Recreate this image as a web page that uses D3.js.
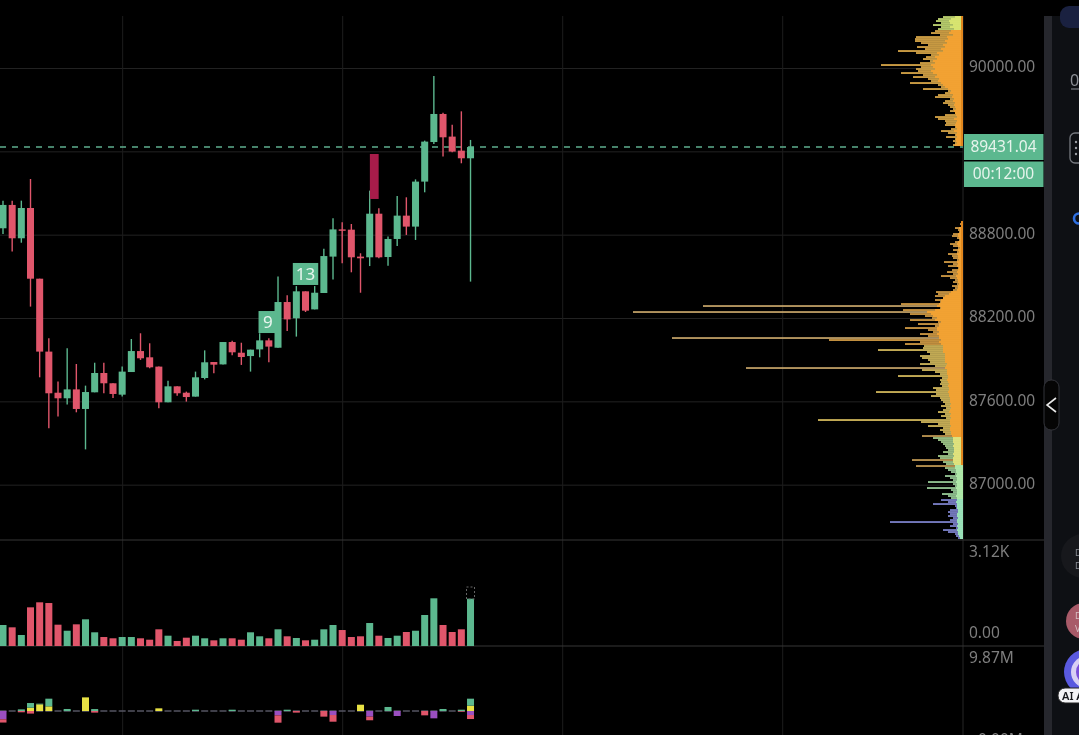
<!DOCTYPE html>
<html>
<head>
<meta charset="utf-8">
<title>BTC candles</title>
<script src="https://cdn.jsdelivr.net/npm/d3@7"></script>
<style>
    html, body { margin: 0; padding: 0; background: #000; overflow: hidden; }
    svg { display: block; filter: blur(0.55px); }
    text { font-family: "Noto Sans", sans-serif; }
    .tick text { font-family: "Noto Sans", sans-serif; }
    .grid .domain { display: none; }
    .grid text { display: none; }
</style>
</head>
<body>
<div id="chart"></div>
<script>
// candles
var opens = [88846,89014,88774,88992,88483,87958,87662,87622,87686,87545,87665,87804,87730,87648,87811,87962,87917,87850,87593,87708,87662,87634,87768,87883,87866,88027,87950,87926,87974,88039,87986,88315,88198,88392,88262,88380,88642,88838,88836,88642,88637,88951,88639,88769,88937,88858,89182,89467,89669,89506,89405,89350];
var closes = [89014,88774,88992,88483,87958,87658,87622,87686,87545,87667,87804,87730,87653,87814,87962,87910,87845,87593,87708,87658,87631,87773,87881,87864,88027,87953,87919,87972,88039,87994,88315,88190,88392,88253,88382,88646,88838,88829,88637,88630,88951,88637,88769,88937,88858,89182,89470,89669,89501,89398,89350,89431];
var highs = [89045,89045,89045,89201,88483,88054,87742,87982,87869,87713,87878,87878,87730,87850,88049,88090,88018,87850,87749,87708,87670,87814,87967,87883,88027,88037,88022,87972,88090,88054,88498,88363,88430,88392,88430,88699,88918,88889,88877,88666,89117,88990,88786,89078,89069,89198,89477,89942,89678,89592,89688,89482];
var lows = [88805,88678,88742,88282,87773,87406,87490,87578,87521,87254,87665,87658,87624,87634,87811,87898,87838,87550,87593,87641,87598,87634,87758,87802,87866,87931,87862,87814,87917,87881,87986,88106,88066,88243,88262,88380,88478,88594,88529,88382,88574,88630,88577,88718,88798,88762,89105,89453,89362,89393,89314,88462];

var volumes = [624,555,327,1149,1298,1277,633,454,644,793,407,267,229,267,267,229,187,496,306,149,247,306,229,169,229,229,187,407,288,229,496,288,238,169,187,496,624,475,267,288,683,306,238,306,416,454,921,1417,624,416,496,1405];

// delta pane, in millions. yellow and green stack up, purple and red stack down
var deltaYellow = [0,0,0,.51,1.03,.72,0,0,0,2.1,0,0,0,0,0,0,0,.41,0,0,0,0,0,0,0,0,0,0,0,0,0,0,0,0,0,0,0,0,0,.97,0,0,0,0,0,0,0,0,0,0,0,.82];
var deltaGreen = [0,0,.25,.72,.1,1.18,0,.31,0,0,.3,0,0,0,0,0,0,0,0,0,0,.2,0,0,0,.2,0,0,0,0,0,.2,0,0,0,0,0,0,0,0,0,0,.62,0,0,0,0,0,.31,0,.2,1.08];
var deltaPurple = [1.28,0,0,0,0,0,0,0,0,0,0,0,0,0,0,0,0,0,0,0,0,0,0,0,0,0,0,0,0,0,.67,0,0,0,0,0,.62,0,0,0,.87,0,0,.77,0,0,0,1.13,0,0,0,.62];
var deltaRed = [.5,0,.2,.4,0,0,0,0,0,0,.25,0,0,0,0,0,0,0,0,0,0,0,0,0,0,0,0,0,0,0,1.13,0,.25,0,0,.87,1.03,0,0,0,.56,0,0,0,0,0,.67,0,0,0,.1,.62];

// volume profile rows, top block then lower block
var profileUpper = [20,25,27,22,30,22,25,28,32,23,47,48,48,42,35,46,38,65,47,32,37,40,33,43,82,42,47,45,62,40,50,35,32,53,25,22,40,15,18,25,28,13,18,20,15,13,10,13,8,18,28,25,18,17,18,8,12,22,15,8,17,8,10,8,10];
var profileUpperCore = [8,12,14,13,10,13,9,12,14,10,16,15,18,16,20,18,22,20,26,24,28,26,30,28,32,30,28,32,30,26,28,24,25,22,20,18,15,12,13,10,11,9,10,8,9,8,7,9,8,7,6,9,6,7,8,7,6,9,6,7,6,7,7,6,8];
var profileLower = [1,3,2,8,5,4,10,11,6,4,8,13,10,5,10,6,15,11,10,6,19,10,15,5,11,16,10,22,13,8,10,6,11,8,10,27,25,28,20,28,23,62,260,23,60,330,53,38,31,53,25,45,28,58,35,30,43,35,291,134,43,58,39,40,85,36,33,43,41,35,33,43,28,217,41,28,23,65,21,23,22,23,21,30,27,87,27,32,23,22,20,18,22,17,20,25,18,22,17,145,42,25,35,20,23,20,18,41,30,25,22,20,18,17,15,20,15,25,23,51,20,17,47,18,15,12,8,18,13,10,35,10,8,36,12,10,21,15,12,22,15,30,8,7,13,15,13,15,10,13,73,10,13,7,20,15,8,7,5];
var profileLowerCore = [1,2,2,4,3,3,5,5,4,3,5,6,5,3,5,4,6,5,5,4,6,5,6,4,5,6,5,7,6,5,5,4,5,5,6,12,14,18,20,22,22,24,26,22,28,36,32,30,26,28,22,24,24,26,26,24,26,24,24,22,24,22,20,20,20,20,18,18,18,18,18,16,17,18,16,16,16,15,15,16,15,14,15,14,14,15,14,14,13,13,13,12,13,12,13,14,12,13,12,13,13,13,12,13,13,12,12,11,10,10,10,9,10,9,9,9,10,9,10,10,10,9,8,8,7,7,6,7,6,6,7,6,6,7,6,6,6,7,6,6,7,6,6,6,5,5,6,6,5,6,6,5,6,5,6,5,5,4,3];
var profileUpperTop = 90367;
var profileLowerTop = 88891;
var profileStep = 14.4;

var priceTicks = [90000, 88800, 88200, 87600, 87000];
var gridPrices = [90000, 89400, 88800, 88200, 87600, 87000];
var gridBars = [13, 37, 61, 85];

var lastPrice = 89431.04;
var countdown = "00:12:00";
var tdCounts = [{bar: 28.9, label: "9", price: 88171}, {bar: 33, label: "13", price: 88517}];
var bigBlock = {bar: 40.5, top: 89381, bottom: 89057};

var svgWidth = 1079;
var svgHeight = 735;
var axisX = 963;

var green = "#5cb88f";
var red = "#e0566b";

var svg = d3.select("#chart")
    .append("svg")
    .attr("width", svgWidth)
    .attr("height", svgHeight);

svg.append("rect")
    .attr("width", svgWidth)
    .attr("height", svgHeight)
    .attr("fill", "#000");

// scales
var xBar = d3.scaleLinear().domain([0, 85]).range([3, 782.2]);
var yPrice = d3.scaleLinear().domain([90374.4, 86601.6]).range([16, 540]);
var yVolume = d3.scaleLinear().domain([0, 3120]).range([646, 541]);
var yDelta = d3.scaleLinear().domain([0, 9.87]).range([711, 647]);
var xProfile = d3.scaleLinear().domain([0, 330]).range([axisX, axisX - 330]);

var tipColor = d3.scaleThreshold()
    .domain([86890, 87106, 87350, 88006, 89000, 90274])
    .range(["#8a90e0", "#a8e0a8", "#b4e09a", "#e8cc66", "#e8ac4c", "#f0b850", "#d8f080"]);
var coreColor = d3.scaleThreshold()
    .domain([86890, 87142, 87350, 90274])
    .range(["#9ae2b8", "#aee8a8", "#dfe27c", "#f2a233", "#d8e470"]);

// long rows in the low band come out tan, not green
function rowTip(d) {
    if (d.total > 40 && d.price > 87106 && d.price < 87400) return "#d4a85c";
    if (d.total > 200) return "#d4b070";
    return tipColor(d.price);
}

// gridlines
svg.append("g")
    .attr("class", "grid")
    .attr("transform", `translate(${axisX}, 0)`)
    .call(d3.axisLeft(yPrice).tickValues(gridPrices).tickSize(axisX).tickFormat(""))
    .selectAll("line")
    .attr("stroke", "#222");

svg.append("g")
    .attr("class", "grid")
    .attr("transform", "translate(0, 16)")
    .call(d3.axisBottom(xBar).tickValues(gridBars).tickSize(719).tickFormat(""))
    .selectAll("line")
    .attr("stroke", "#1d1d1d");

// axis edge and pane separators
svg.append("line")
    .attr("x1", axisX).attr("x2", axisX).attr("y1", 16).attr("y2", 735)
    .attr("stroke", "#262626");
svg.selectAll(".separator")
    .data([yVolume.range()[1] - 1, yVolume.range()[0]])
    .enter()
    .append("line")
    .attr("class", "separator")
    .attr("x1", 0).attr("x2", 1044)
    .attr("y1", d => d).attr("y2", d => d)
    .attr("stroke", "#363636")
    .attr("stroke-width", 1.2);

// last price dashes
svg.append("line")
    .attr("x1", 0).attr("x2", axisX)
    .attr("y1", yPrice(lastPrice)).attr("y2", yPrice(lastPrice))
    .attr("stroke", "#5fae8e")
    .attr("stroke-width", 1.6)
    .attr("stroke-dasharray", "6,6");

// volume profile
function drawProfile(totals, cores, topPrice) {
    var rows = totals.map(function (total, i) {
        return {price: topPrice - i * profileStep, total: total, core: Math.min(cores[i], total)};
    });
    var rowGroup = svg.append("g");
    rowGroup.selectAll(".tip")
        .data(rows)
        .enter()
        .append("rect")
        .attr("x", d => xProfile(d.total))
        .attr("y", d => yPrice(d.price) - 0.8)
        .attr("width", d => axisX - xProfile(d.total))
        .attr("height", 1.6)
        .attr("fill", rowTip);
    rowGroup.selectAll(".core")
        .data(rows)
        .enter()
        .append("rect")
        .attr("x", d => xProfile(d.core))
        .attr("y", d => yPrice(d.price) - 1)
        .attr("width", d => axisX - xProfile(d.core))
        .attr("height", 2)
        .attr("fill", d => coreColor(d.price));
    // darker edge against the axis
    rowGroup.selectAll(".edge")
        .data(rows.filter(d => d.price > 87142))
        .enter()
        .append("rect")
        .attr("x", axisX - 2)
        .attr("y", d => yPrice(d.price) - 1)
        .attr("width", 2)
        .attr("height", 2)
        .attr("fill", "#e0861e");
}
drawProfile(profileUpper, profileUpperCore, profileUpperTop);
drawProfile(profileLower, profileLowerCore, profileLowerTop);

// candles
var candles = opens.map(function (open, i) {
    return {i: i, open: open, close: closes[i], high: highs[i], low: lows[i], volume: volumes[i]};
});
var barWidth = 7;

svg.selectAll(".wick")
    .data(candles)
    .enter()
    .append("line")
    .attr("class", "wick")
    .attr("x1", d => xBar(d.i)).attr("x2", d => xBar(d.i))
    .attr("y1", d => yPrice(d.high)).attr("y2", d => yPrice(d.low))
    .attr("stroke", d => d.close >= d.open ? green : red)
    .attr("stroke-width", 1.4);

svg.selectAll(".body")
    .data(candles)
    .enter()
    .append("rect")
    .attr("class", "body")
    .attr("x", d => xBar(d.i) - barWidth / 2)
    .attr("y", d => yPrice(Math.max(d.open, d.close)))
    .attr("width", barWidth)
    .attr("height", d => Math.max(1.4, Math.abs(yPrice(d.open) - yPrice(d.close))))
    .attr("fill", d => d.close >= d.open ? green : red);

svg.append("rect")
    .attr("x", xBar(bigBlock.bar) - 4.4)
    .attr("y", yPrice(bigBlock.top))
    .attr("width", 8.8)
    .attr("height", yPrice(bigBlock.bottom) - yPrice(bigBlock.top))
    .attr("fill", "#a81c4a");

// count labels
var countGroup = svg.selectAll(".count")
    .data(tdCounts)
    .enter()
    .append("g")
    .attr("class", "count")
    .attr("transform", d => `translate(${xBar(d.bar)}, ${yPrice(d.price)})`);
countGroup.append("rect")
    .attr("x", d => d.label.length > 1 ? -12.7 : -9.4)
    .attr("y", -11)
    .attr("width", d => d.label.length > 1 ? 25.4 : 18.8)
    .attr("height", 22)
    .attr("fill", green);
countGroup.append("text")
    .attr("text-anchor", "middle")
    .attr("y", 6)
    .attr("fill", "#e8f5ee")
    .attr("font-size", "17px")
    .text(d => d.label);

// volume bars
svg.selectAll(".vol")
    .data(candles)
    .enter()
    .append("rect")
    .attr("class", "vol")
    .attr("x", d => xBar(d.i) - barWidth / 2)
    .attr("y", d => yVolume(d.volume))
    .attr("width", barWidth)
    .attr("height", d => yVolume(0) - yVolume(d.volume))
    .attr("fill", d => d.close >= d.open ? green : red);

// dashed box over the forming bar
svg.append("rect")
    .attr("x", xBar(51) - 4)
    .attr("y", 587)
    .attr("width", 8)
    .attr("height", 12)
    .attr("fill", "none")
    .attr("stroke", "#666")
    .attr("stroke-dasharray", "2,2");

// delta bars
var deltaGroup = svg.append("g");
deltaGroup.selectAll(".zero")
    .data(candles)
    .enter()
    .append("rect")
    .attr("x", d => xBar(d.i) - barWidth / 2)
    .attr("y", yDelta(0) - 0.7)
    .attr("width", barWidth)
    .attr("height", 1.4)
    .attr("fill", "#5a5a68");

function drawDelta(values, under, color, sign) {
    deltaGroup.selectAll(null)
        .data(values)
        .enter()
        .append("rect")
        .attr("x", (d, i) => xBar(i) - barWidth / 2)
        .attr("y", (d, i) => sign > 0 ? yDelta(under[i] + d) : yDelta(-under[i]))
        .attr("width", barWidth)
        .attr("height", d => yDelta(0) - yDelta(d))
        .attr("fill", color);
}
var noValues = deltaYellow.map(() => 0);
drawDelta(deltaYellow, noValues, "#e8e244", 1);
drawDelta(deltaGreen, deltaYellow, green, 1);
drawDelta(deltaPurple, noValues, "#9a4fc0", -1);
drawDelta(deltaRed, deltaPurple, red, -1);

// price axis labels
var priceAxis = svg.append("g")
    .attr("transform", `translate(${axisX}, 0)`)
    .call(d3.axisRight(yPrice).tickValues(priceTicks).tickSize(0).tickPadding(6).tickFormat(d3.format(".2f")));
priceAxis.select(".domain").remove();
priceAxis.selectAll("text")
    .attr("y", -1)
    .attr("fill", "#7e7e7e")
    .style("font-size", "15.5px");

var paneLabels = [
    {text: "3.12K", x: 969, y: 556.5},
    {text: "0.00", x: 969, y: 637.5},
    {text: "9.87M", x: 969, y: 663},
    {text: "0.00M", x: 978, y: 744.5}
];
svg.selectAll(".pane-label")
    .data(paneLabels)
    .enter()
    .append("text")
    .attr("class", "pane-label")
    .attr("x", d => d.x)
    .attr("y", d => d.y)
    .attr("fill", "#7e7e7e")
    .attr("font-size", "15.5px")
    .text(d => d.text);

// last price and countdown tags
var tags = [
    {text: d3.format(".2f")(lastPrice), y: 134, h: 26},
    {text: countdown, y: 161.5, h: 25.5}
];
svg.selectAll(".tag")
    .data(tags)
    .enter()
    .append("rect")
    .attr("class", "tag")
    .attr("x", 964)
    .attr("y", d => d.y)
    .attr("width", 79.5)
    .attr("height", d => d.h)
    .attr("fill", green);
svg.selectAll(".tag-text")
    .data(tags)
    .enter()
    .append("text")
    .attr("class", "tag-text")
    .attr("x", 1003.5)
    .attr("y", d => d.y + d.h / 2 + 4.5)
    .attr("text-anchor", "middle")
    .attr("fill", "#e6f4ec")
    .attr("font-size", "15.5px")
    .text(d => d.text);

// side panel on the right, cut off by the window
svg.append("rect").attr("x", 1044).attr("y", 16).attr("width", 8).attr("height", 719).attr("fill", "#26272d");
svg.append("rect").attr("x", 1052).attr("y", 16).attr("width", 27).attr("height", 719).attr("fill", "#0e1014");
svg.append("rect").attr("x", 1060).attr("y", 6).attr("width", 40).attr("height", 22).attr("rx", 9).attr("fill", "#1a2140");

svg.append("text")
    .attr("x", 1070).attr("y", 86)
    .attr("fill", "#8c8f96").attr("font-size", "16px")
    .text("0");
svg.append("line")
    .attr("x1", 1071).attr("x2", 1079).attr("y1", 89).attr("y2", 89)
    .attr("stroke", "#8c8f96");

svg.append("rect")
    .attr("x", 1070).attr("y", 133).attr("width", 20).attr("height", 30).attr("rx", 5)
    .attr("fill", "none").attr("stroke", "#777a80").attr("stroke-width", 1.3);
svg.selectAll(".dot")
    .data([142, 148, 154])
    .enter()
    .append("circle")
    .attr("cx", 1076).attr("cy", d => d).attr("r", 1.2)
    .attr("fill", "#9a9da3");

svg.append("circle")
    .attr("cx", 1079).attr("cy", 218.5).attr("r", 5)
    .attr("fill", "none").attr("stroke", "#2f6fe0").attr("stroke-width", 2.6);

// collapse handle
svg.append("rect")
    .attr("x", 1044).attr("y", 380).attr("width", 15).attr("height", 50).attr("rx", 7)
    .attr("fill", "#050505").attr("stroke", "#33343a");
svg.append("path")
    .attr("d", "M1056,398 L1047,405 L1056,412")
    .attr("fill", "none").attr("stroke", "#e8e8e8").attr("stroke-width", 1.6);

// round buttons
svg.append("circle").attr("cx", 1083).attr("cy", 556).attr("r", 22).attr("fill", "#17181c");
svg.append("text").attr("x", 1075).attr("y", 556).attr("fill", "#8c8f96").attr("font-size", "9px").text("D");
svg.append("text").attr("x", 1075).attr("y", 569).attr("fill", "#8c8f96").attr("font-size", "9px").text("D");
svg.append("circle").attr("cx", 1084).attr("cy", 621).attr("r", 18).attr("fill", "#a85a68");
svg.append("text").attr("x", 1075).attr("y", 619).attr("fill", "#d9c0c4").attr("font-size", "9px").text("D");
svg.append("text").attr("x", 1075).attr("y", 632).attr("fill", "#d9c0c4").attr("font-size", "9px").text("V");
svg.append("circle").attr("cx", 1087).attr("cy", 672).attr("r", 23).attr("fill", "#5a5ae0");
svg.append("circle").attr("cx", 1087).attr("cy", 672).attr("r", 16).attr("fill", "#d8d0f4");
svg.append("circle").attr("cx", 1089).attr("cy", 672).attr("r", 13).attr("fill", "#7a4fd8");
svg.append("rect")
    .attr("x", 1058).attr("y", 688).attr("width", 40).attr("height", 15).attr("rx", 7)
    .attr("fill", "#f4f4f6").attr("stroke", "#222");
svg.append("text")
    .attr("x", 1062).attr("y", 700)
    .attr("fill", "#17181c").attr("font-size", "11px").attr("font-weight", 600)
    .text("AI A");
</script>
</body>
</html>
